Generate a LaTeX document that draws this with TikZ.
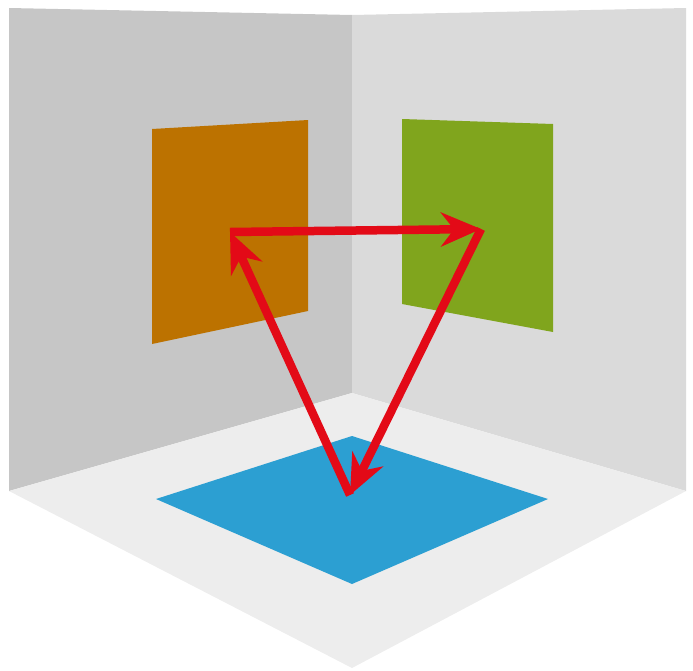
\documentclass[tikz,border=0pt]{standalone}
\usetikzlibrary{arrows.meta}
\definecolor{wallL}{HTML}{C6C6C6}
\definecolor{wallR}{HTML}{DADADA}
\definecolor{floorc}{HTML}{EDEDED}
\definecolor{orangep}{HTML}{BC7200}
\definecolor{greenp}{HTML}{80A51D}
\definecolor{bluep}{HTML}{2C9FD2}
\definecolor{redarr}{HTML}{E30A17}
\tikzset{
  redarrow/.style={draw=redarr, line width=8.5pt, -{Stealth[length=40pt,width=34pt,inset=13pt]}, line join=miter}
}
\begin{document}
\begin{tikzpicture}[x=1pt,y=-1pt]
\useasboundingbox (0,0) rectangle (693,670);
% walls and floor
\fill[wallL] (9,8) -- (352,15) -- (352,393) -- (9,491) -- cycle;
\fill[wallR] (352,15) -- (686,8) -- (686,491) -- (352,393) -- cycle;
\fill[floorc] (9,491) -- (352,393) -- (686,491) -- (352,668) -- cycle;
% panels
\fill[orangep] (152,129) -- (308,120) -- (308,311) -- (152,344) -- cycle;
\fill[greenp] (402,119) -- (553,124) -- (553,332) -- (402,304) -- cycle;
\fill[bluep] (156,499) -- (352,436) -- (548,499) -- (352,584) -- cycle;
% points
\coordinate (A) at (230,232);
\coordinate (B) at (481,229);
\coordinate (C) at (350,495);
% arrows
\draw[redarrow] (A) -- (B);
\draw[redarrow] (B) -- (C);
\draw[redarrow] (C) -- (A);
\end{tikzpicture}
\end{document}
